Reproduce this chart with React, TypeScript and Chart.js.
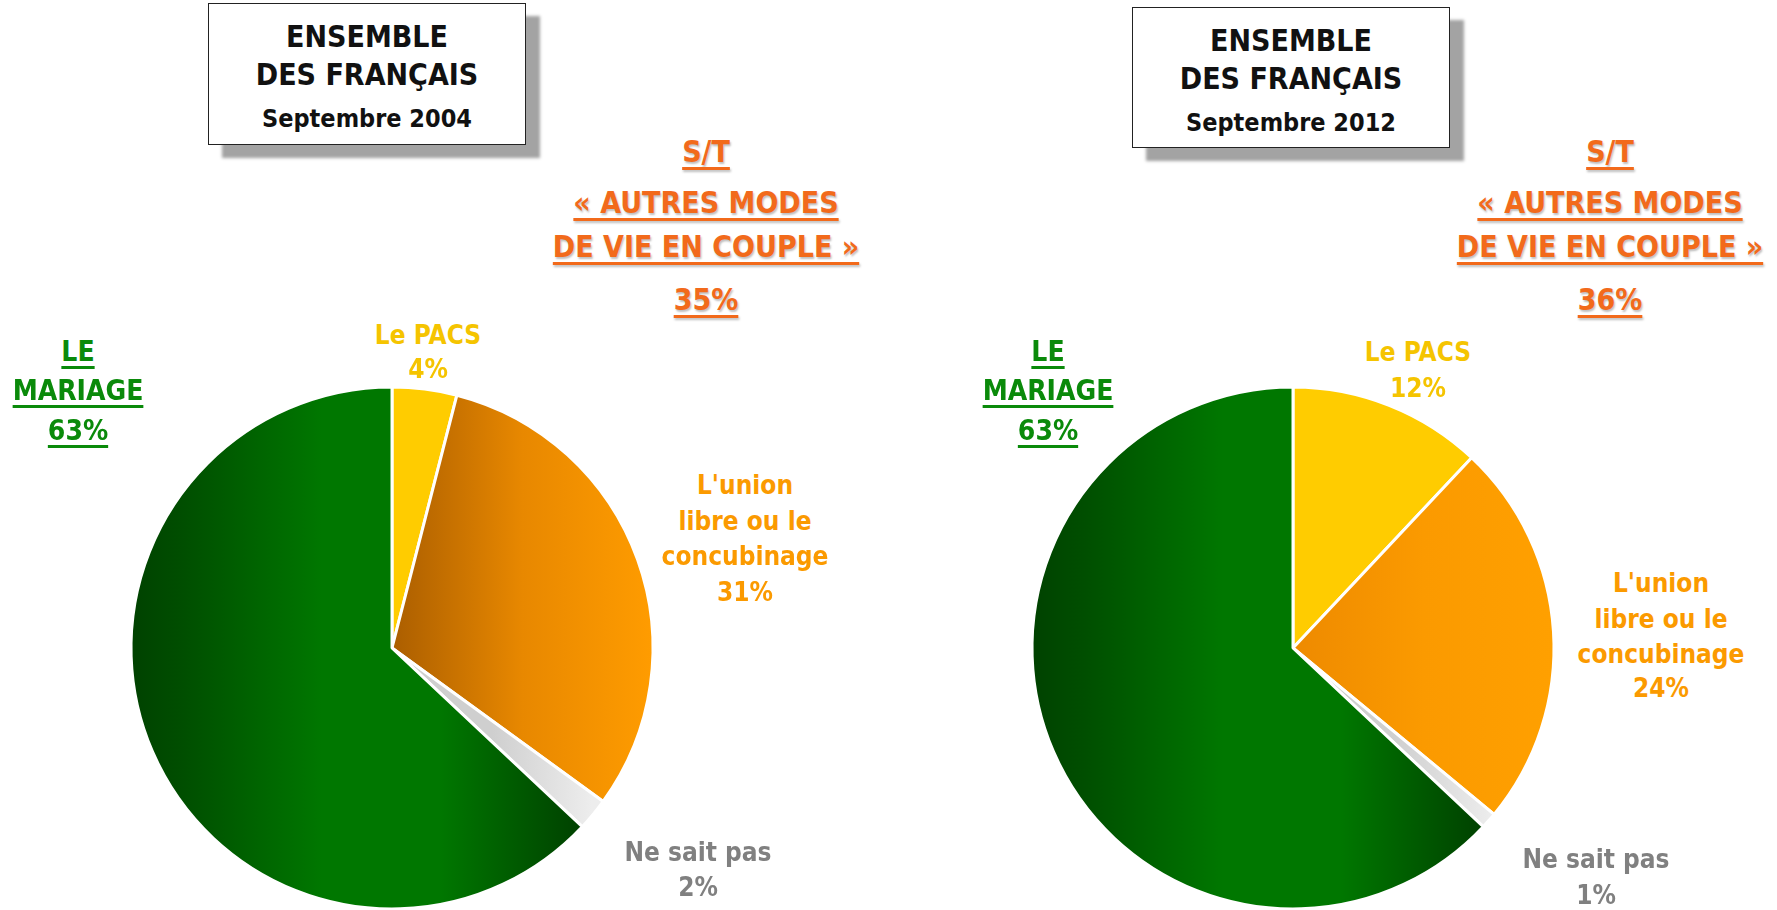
import React, { useEffect, useRef } from "react";
import { Chart, registerables } from "chart.js";

Chart.register(...registerables);

// ---- DATA ----
const sliceLabels = ["Le PACS", "L'union libre ou le concubinage", "Ne sait pas", "Le mariage"];
const values2004 = [4, 31, 2, 63];
const values2012 = [12, 24, 1, 63];
const subtotal2004 = "35%";
const subtotal2012 = "36%";
const period2004 = "Septembre 2004";
const period2012 = "Septembre 2012";

const FONT = '"DejaVu Sans Condensed", "DejaVu Sans", sans-serif';
const RADIUS = 261;

type Txt = {
  text: string;
  x: number;
  y: number;
  size: number;
  color: string;
  underline?: boolean;
  weight?: number;
  shadow?: boolean;
};

function T({ t }: { t: Txt }) {
  return (
    <div
      style={{
        position: "absolute",
        left: t.x,
        top: t.y,
        transform: "translate(-50%, -50%)",
        whiteSpace: "nowrap",
        fontFamily: FONT,
        fontStretch: "condensed",
        fontWeight: t.weight ?? 700,
        fontSize: t.size,
        lineHeight: 1,
        color: t.color,
        textDecoration: t.underline ? "underline" : "none",
        textDecorationThickness: t.underline ? 3 : undefined,
        textUnderlineOffset: t.underline ? 5 : undefined,
        textShadow: t.shadow ? "1px 2px 2px rgba(0,0,0,0.25)" : undefined,
      }}
    >
      {t.text}
    </div>
  );
}

function PieCanvas({
  values,
  cx,
  cy,
  unionDark,
  unionMid,
  unionLight,
}: {
  values: number[];
  cx: number;
  cy: number;
  unionDark: string;
  unionMid: string;
  unionLight: string;
}) {
  const ref = useRef<HTMLCanvasElement | null>(null);
  const size = 560;
  useEffect(() => {
    if (!ref.current) return;
    const chart = new Chart(ref.current, {
      type: "pie",
      data: {
        labels: sliceLabels,
        datasets: [
          {
            data: values,
            borderColor: "#ffffff",
            borderWidth: 3,
            hoverOffset: 0,
            backgroundColor: (ctx: any) => {
              const ch = ctx.chart;
              const area = ch.chartArea;
              const fallback = ["#ffcc00", unionLight, "#dddddd", "#007700"][ctx.dataIndex];
              if (!area) return fallback;
              const c = ch.ctx;
              const mx = (area.left + area.right) / 2;
              const i = ctx.dataIndex;
              if (i === 0) return "#ffcc00";
              if (i === 1) {
                const g = c.createLinearGradient(mx, 0, mx + RADIUS, 0);
                g.addColorStop(0, unionDark);
                g.addColorStop(0.5, unionMid);
                g.addColorStop(1, unionLight);
                return g;
              }
              if (i === 2) {
                const g = c.createLinearGradient(mx + 100, 0, mx + 200, 0);
                g.addColorStop(0, "#cfcfcf");
                g.addColorStop(1, "#ededed");
                return g;
              }
              const g = c.createLinearGradient(mx - RADIUS, 0, mx + RADIUS * 0.74, 0);
              g.addColorStop(0, "#004200");
              g.addColorStop(0.12, "#004f00");
              g.addColorStop(0.42, "#007700");
              g.addColorStop(0.68, "#007700");
              g.addColorStop(1, "#004000");
              return g;
            },
          },
        ],
      },
      options: {
        animation: false,
        responsive: false,
        maintainAspectRatio: false,
        radius: RADIUS,
        layout: { padding: 0 },
        plugins: {
          legend: { display: false },
          tooltip: { enabled: false },
          title: { display: false },
        },
        events: [],
      } as any,
    });
    return () => chart.destroy();
  }, []);
  return (
    <canvas
      ref={ref}
      width={size}
      height={size}
      style={{ position: "absolute", left: cx - size / 2, top: cy - size / 2, width: size, height: size }}
    />
  );
}

function TitleBox({ left, top, width, height, period }: any) {
  const cx = left + width / 2;
  return (
    <>
      <div
        style={{
          position: "absolute",
          left,
          top,
          width,
          height,
          boxSizing: "border-box",
          border: "1.5px solid #222",
          background: "#fff",
          boxShadow: "14px 13px 3px #a3a3a3",
        }}
      />
      <T t={{ text: "ENSEMBLE", x: cx, y: top + 34, size: 30, color: "#111", weight: 700 }} />
      <T t={{ text: "DES FRANÇAIS", x: cx, y: top + 72, size: 30, color: "#111", weight: 700 }} />
      <T t={{ text: period, x: cx, y: top + 115, size: 25, color: "#111", weight: 700 }} />
    </>
  );
}

function Header({ cx, total }: { cx: number; total: string }) {
  const c = "#f26a1b";
  return (
    <>
      <T t={{ text: "S/T", x: cx, y: 152, size: 30, color: c, underline: true, shadow: true }} />
      <T t={{ text: "« AUTRES MODES", x: cx, y: 203, size: 30, color: c, underline: true, shadow: true }} />
      <T t={{ text: "DE VIE EN COUPLE »", x: cx, y: 247, size: 30, color: c, underline: true, shadow: true }} />
      <T t={{ text: total, x: cx, y: 300, size: 30, color: c, underline: true, shadow: true }} />
    </>
  );
}

export default function App() {
  const green = "#0a8a0a";
  const gold = "#f5c400";
  const orange = "#fb9a00";
  const gray = "#808080";
  const ls = 26;
  return (
    <div
      style={{
        position: "fixed",
        left: 0,
        top: 0,
        width: 1777,
        height: 910,
        background: "#fff",
        overflow: "hidden",
      }}
    >
      <PieCanvas values={values2004} cx={392} cy={648} unionDark="#ab5e00" unionMid="#e88800" unionLight="#ff9c00" />
      <PieCanvas values={values2012} cx={1293} cy={648} unionDark="#ee8a00" unionMid="#fb9a00" unionLight="#ffa000" />

      <TitleBox left={208} top={3} width={318} height={142} period={period2004} />
      <TitleBox left={1132} top={7} width={318} height={141} period={period2012} />

      <Header cx={706} total={subtotal2004} />
      <Header cx={1610} total={subtotal2012} />

      {/* left pie labels */}
      <T t={{ text: "LE", x: 78, y: 352, size: 28, color: green, underline: true }} />
      <T t={{ text: "MARIAGE", x: 78, y: 391, size: 28, color: green, underline: true }} />
      <T t={{ text: values2004[3] + "%", x: 78, y: 431, size: 28, color: green, underline: true }} />
      <T t={{ text: "Le PACS", x: 428, y: 335, size: ls, color: gold }} />
      <T t={{ text: values2004[0] + "%", x: 428, y: 369, size: ls, color: gold }} />
      <T t={{ text: "L'union", x: 745, y: 485, size: ls, color: orange }} />
      <T t={{ text: "libre ou le", x: 745, y: 521, size: ls, color: orange }} />
      <T t={{ text: "concubinage", x: 745, y: 556, size: ls, color: orange }} />
      <T t={{ text: values2004[1] + "%", x: 745, y: 592, size: ls, color: orange }} />
      <T t={{ text: "Ne sait pas", x: 698, y: 852, size: ls, color: gray }} />
      <T t={{ text: values2004[2] + "%", x: 698, y: 887, size: ls, color: gray }} />

      {/* right pie labels */}
      <T t={{ text: "LE", x: 1048, y: 352, size: 28, color: green, underline: true }} />
      <T t={{ text: "MARIAGE", x: 1048, y: 391, size: 28, color: green, underline: true }} />
      <T t={{ text: values2012[3] + "%", x: 1048, y: 431, size: 28, color: green, underline: true }} />
      <T t={{ text: "Le PACS", x: 1418, y: 352, size: ls, color: gold }} />
      <T t={{ text: values2012[0] + "%", x: 1418, y: 388, size: ls, color: gold }} />
      <T t={{ text: "L'union", x: 1661, y: 583, size: ls, color: orange }} />
      <T t={{ text: "libre ou le", x: 1661, y: 619, size: ls, color: orange }} />
      <T t={{ text: "concubinage", x: 1661, y: 654, size: ls, color: orange }} />
      <T t={{ text: values2012[1] + "%", x: 1661, y: 688, size: ls, color: orange }} />
      <T t={{ text: "Ne sait pas", x: 1596, y: 859, size: ls, color: gray }} />
      <T t={{ text: values2012[2] + "%", x: 1596, y: 895, size: ls, color: gray }} />
    </div>
  );
}
